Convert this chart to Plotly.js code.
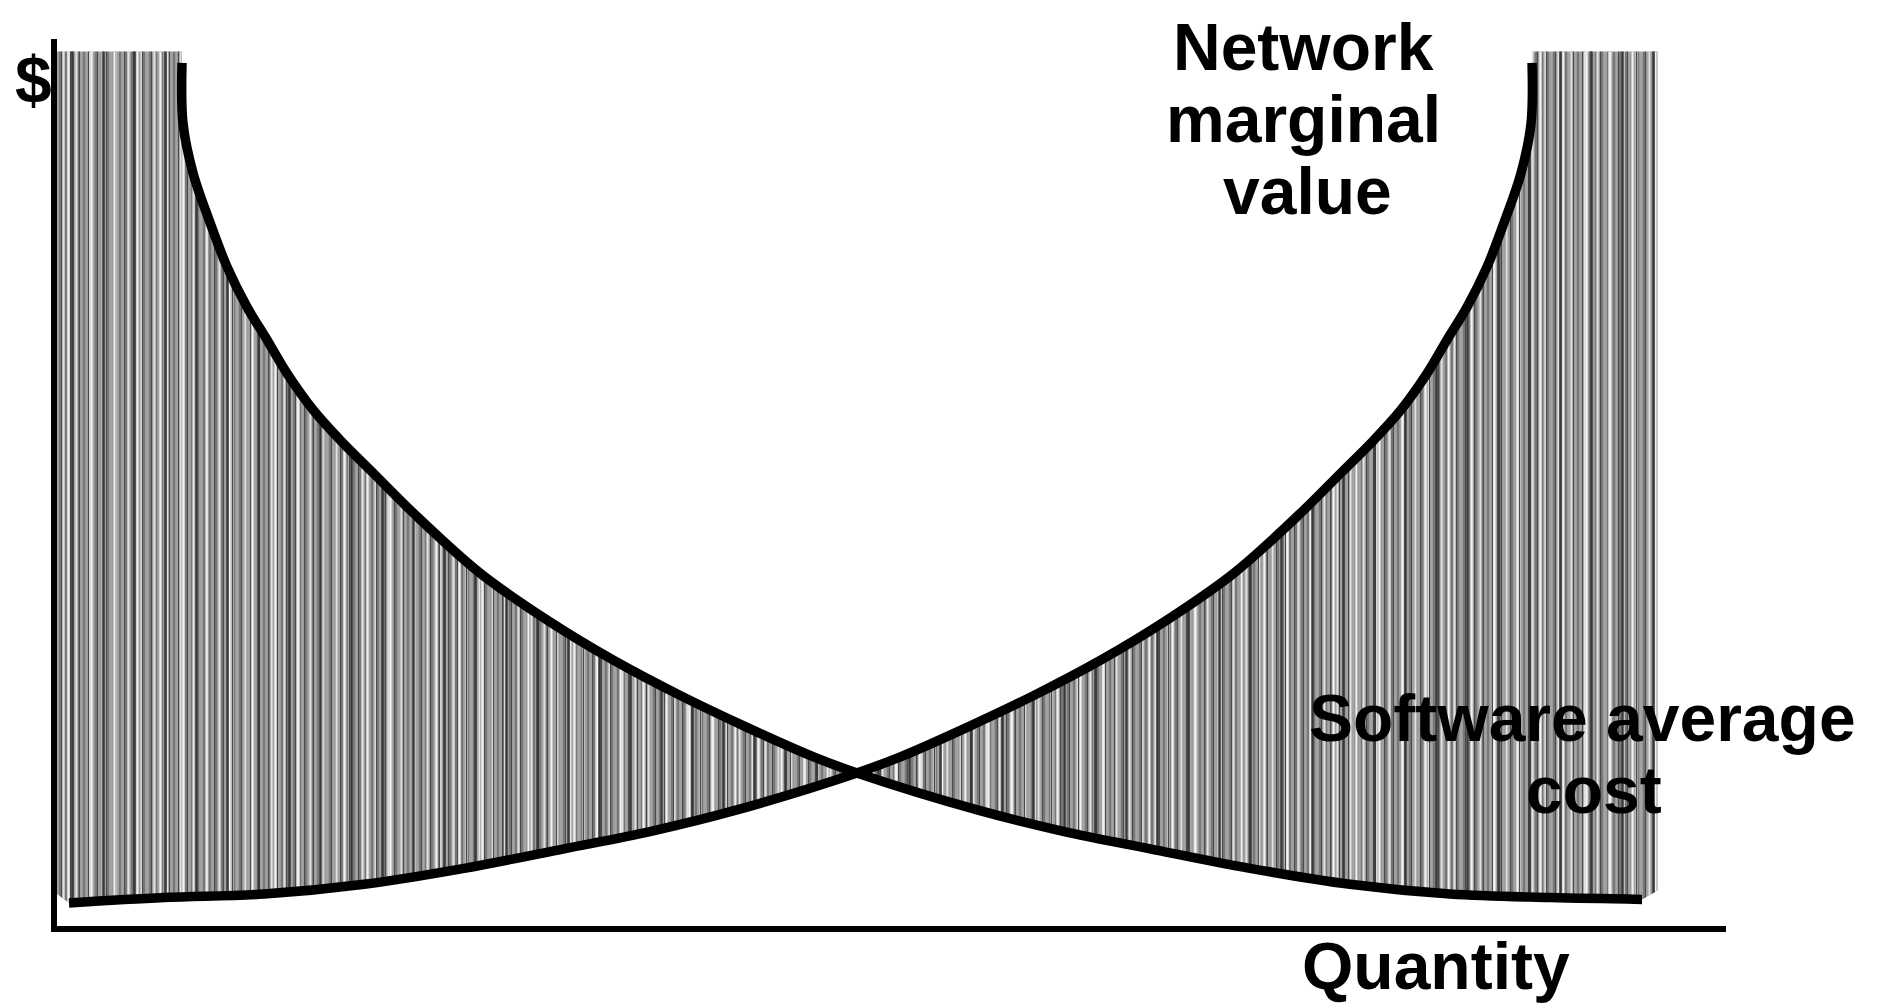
<!DOCTYPE html>
<html>
<head>
<meta charset="utf-8">
<script src="https://cdn.plot.ly/plotly-3.0.1.min.js"></script>
<style>html,body{margin:0;padding:0;background:#fff;}#chart{width:1884px;height:1006px;}</style>
</head>
<body>
<div id="chart"></div>
<script>
// Software average cost curve (Quantity, $)
const costQ = [7.49, 7.55, 8.15, 9.17, 10.19, 11.38, 12.58, 13.78, 15.34, 16.96, 18.93, 21.33, 25.34, 29.36, 33.31, 37.33, 41.34, 45.30, 47.93, 55.30, 60.22, 65.49, 71.48, 77.47, 83.46, 89.45, 94.97];
const costD = [97.3, 90.5, 84.9, 79.3, 74.3, 69.8, 66.1, 62.3, 58.2, 54.8, 51.1, 46.6, 39.8, 34.5, 30.0, 26.0, 22.4, 19.1, 17.25, 13.0, 10.7, 8.7, 6.5, 4.7, 3.6, 3.2, 3.0];
// Network marginal value curve (Quantity, $)
const valueQ = [0.72, 6.42, 12.41, 18.40, 24.39, 30.38, 35.65, 40.57, 47.93, 50.57, 54.53, 58.54, 62.56, 66.51, 70.53, 74.54, 76.94, 78.91, 80.53, 82.09, 83.29, 84.49, 85.68, 86.70, 87.72, 88.32, 88.38];
const valueD = [2.6, 3.2, 3.6, 4.7, 6.5, 8.7, 10.7, 13.0, 17.25, 19.1, 22.4, 26.0, 30.0, 34.5, 39.8, 46.6, 51.1, 54.8, 58.2, 62.3, 66.1, 69.8, 74.3, 79.3, 84.9, 90.5, 97.3];
// Where the curves cross, and the limits of the shaded areas
const crossQ = 47.93;
const dollarCeil = 98.6;
const quantityMax = 95.9;
// Labels
const labelNetwork = ["Network", "marginal", "value"];
const labelCost = ["Software average", "cost"];
const labelX = "Quantity";
const labelY = "$";

// Left shaded area: between the axis, the cost curve (above) and the value curve (below)
const lx = [0, costQ[0]], ly = [dollarCeil, dollarCeil];
costQ.forEach((q, i) => { if (q <= crossQ) { lx.push(q); ly.push(costD[i]); } });
for (let i = valueQ.length - 1; i >= 0; i--) { if (valueQ[i] <= crossQ) { lx.push(valueQ[i]); ly.push(valueD[i]); } }
lx.push(0); ly.push(valueD[0] + 1);

// Right shaded area: between the value curve (above) and the cost curve (below)
const rx = [], ry = [];
valueQ.forEach((q, i) => { if (q >= crossQ) { rx.push(q); ry.push(valueD[i]); } });
rx.push(valueQ[valueQ.length - 1], quantityMax, quantityMax);
ry.push(dollarCeil, dollarCeil, costD[costD.length - 1] + 1);
for (let i = costQ.length - 1; i >= 0; i--) { if (costQ[i] >= crossQ) { rx.push(costQ[i]); ry.push(costD[i]); } }

function shade(x, y, fill, pat) {
  return {x: x, y: y, type: 'scatter', mode: 'none', fill: 'toself', fillcolor: fill,
          fillpattern: pat, hoverinfo: 'skip', showlegend: false};
}
const clear = 'rgba(0,0,0,0)';
const layers = [
  {fill: '#a0a0a0', pat: {shape: '|', size: 6, solidity: 0.4, fgcolor: '#787878', bgcolor: '#a3a3a3'}},
  {fill: clear, pat: {shape: '|', size: 13, solidity: 0.16, fgcolor: '#e2e2e2', bgcolor: clear}},
  {fill: clear, pat: {shape: '|', size: 9, solidity: 0.13, fgcolor: '#4a4a4a', bgcolor: clear}},
  {fill: clear, pat: {shape: '|', size: 23, solidity: 0.1, fgcolor: '#f2f2f2', bgcolor: clear}},
  {fill: clear, pat: {shape: '|', size: 31, solidity: 0.08, fgcolor: '#383838', bgcolor: clear}}
];
const traces = [];
layers.forEach(L => { traces.push(shade(lx, ly, L.fill, L.pat)); traces.push(shade(rx, ry, L.fill, L.pat)); });

traces.push({x: costQ, y: costD, type: 'scatter', mode: 'lines', name: 'Software average cost',
  line: {color: '#000', width: 9.5, shape: 'spline', smoothing: 1}, showlegend: false, hoverinfo: 'skip'});
traces.push({x: valueQ, y: valueD, type: 'scatter', mode: 'lines', name: 'Network marginal value',
  line: {color: '#000', width: 9.5, shape: 'spline', smoothing: 1}, showlegend: false, hoverinfo: 'skip'});

const font = {family: '"Liberation Sans", Arial, Helvetica, sans-serif', size: 66, color: '#000', weight: 'bold'};
function label(text, x, y, ref) {
  return {text: '<b>' + text + '</b>', x: x, y: y, xref: ref || 'x', yref: ref ? 'paper' : 'y', showarrow: false,
          xanchor: 'center', yanchor: 'middle', font: font};
}
const annotations = [
  label(labelNetwork[0], 74.7, 99.1),
  label(labelNetwork[1], 74.7, 91.0),
  label(labelNetwork[2], 74.9, 82.9),
  label(labelCost[0], 91.4, 23.4),
  label(labelCost[1], 92.1, 15.3),
  label(labelX, 0.826, -0.045, 'paper'),
  label(labelY, -0.014, 0.954, 'paper')
];

const axis = {showgrid: false, zeroline: false, showticklabels: false, ticks: '',
              showline: true, linecolor: '#000', linewidth: 6, range: [0, 100], fixedrange: true};
const layout = {
  width: 1884, height: 1006,
  margin: {l: 57, r: 158, t: 39, b: 80, pad: 0},
  paper_bgcolor: '#fff', plot_bgcolor: '#fff',
  xaxis: Object.assign({}, axis),
  yaxis: Object.assign({}, axis),
  showlegend: false,
  hovermode: false,
  annotations: annotations
};
Plotly.newPlot('chart', traces, layout, {displayModeBar: false, staticPlot: true});
</script>
</body>
</html>
